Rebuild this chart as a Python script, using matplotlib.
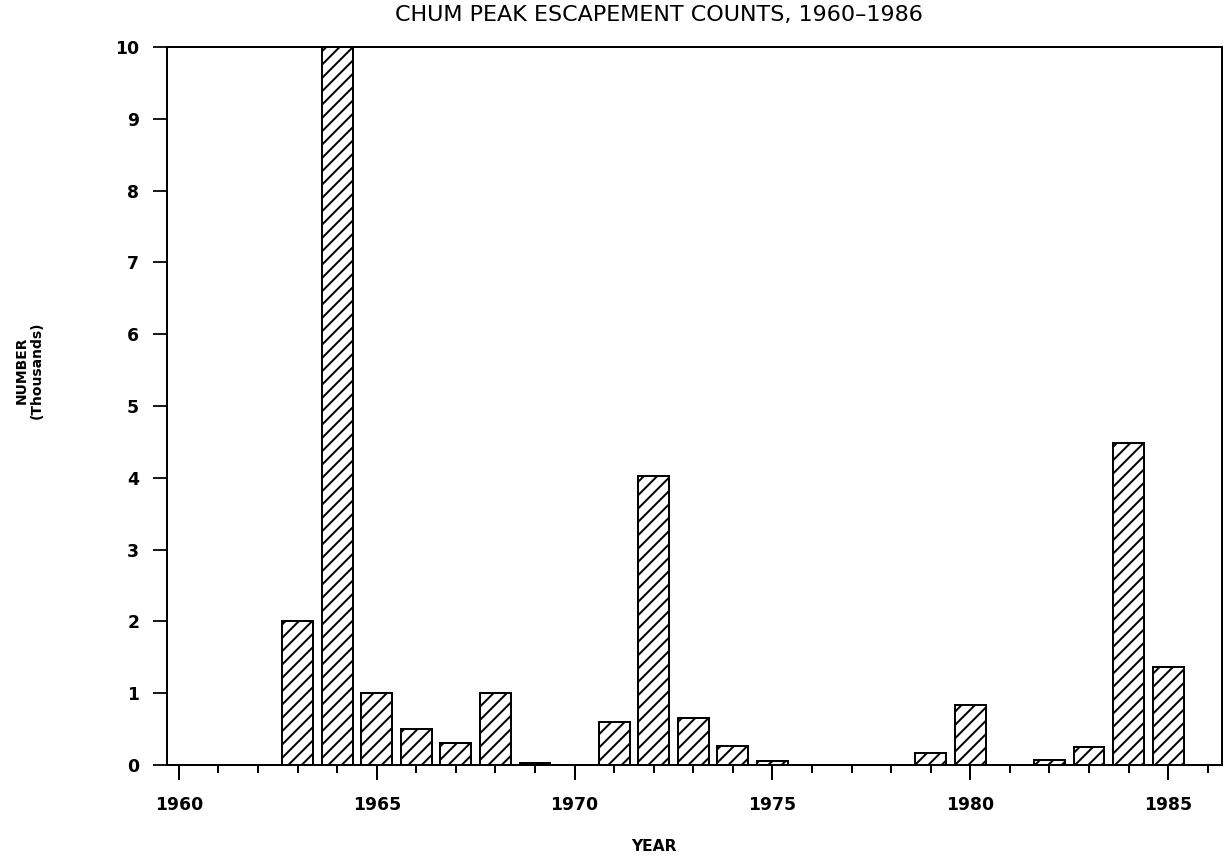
import matplotlib
matplotlib.use("Agg")
import matplotlib.pyplot as plt
from matplotlib.ticker import MultipleLocator

years = [1963, 1964, 1965, 1966, 1967, 1968, 1969, 1971, 1972, 1973, 1974,
         1975, 1979, 1980, 1982, 1983, 1984, 1985]
counts = [2.0, 10.0, 1.0, 0.5, 0.3, 1.0, 0.03, 0.6, 4.02, 0.65, 0.27,
          0.06, 0.17, 0.83, 0.07, 0.25, 4.48, 1.36]
major_ticks = [1960, 1965, 1970, 1975, 1980, 1985]
major_labels = ["1960", "1965", "1970", "1975", "1980", "1985"]
y_ticks = list(range(0, 11))

DPI = 80
W, H = 1228, 856
plt.rcParams['font.family'] = ['DejaVu Sans']
plt.rcParams['hatch.linewidth'] = 1.8
plt.rcParams['hatch.color'] = 'black'

fig = plt.figure(figsize=(W / DPI, H / DPI), dpi=DPI)
ax = fig.add_axes([167 / W, (H - 765) / H, (1222 - 167) / W, (765 - 47) / H])

ax.bar(years, counts, width=0.78, color='white', edgecolor='black',
       linewidth=1.8, hatch='//', zorder=2)

ax.set_xlim(1959.70, 1986.36)
ax.set_ylim(0, 10)

ax.set_xticks(major_ticks)
ax.set_xticklabels(major_labels, fontsize=15.5, fontweight='bold')
ax.xaxis.set_minor_locator(MultipleLocator(1))
ax.set_yticks(y_ticks)
ax.set_yticklabels([str(v) for v in y_ticks], fontsize=15.5, fontweight='bold')

ax.tick_params(axis='x', which='major', direction='out', length=13.5, width=1.8, pad=14)
ax.tick_params(axis='x', which='minor', direction='out', length=7, width=1.8)
ax.tick_params(axis='y', which='major', direction='out', length=13, width=1.6, pad=12)
ax.tick_params(axis='y', which='minor', left=False)

for s in ax.spines.values():
    s.set_linewidth(1.8)
    s.set_color('black')

fig.text(659 / W, 1 - 15 / H, "CHUM PEAK ESCAPEMENT COUNTS, 1960\u20131986",
         ha='center', va='center', fontsize=20)
fig.text(29 / W, 1 - 370 / H, "NUMBER\n(Thousands)", rotation=90,
         ha='center', va='center', multialignment='center',
         fontsize=12.5, fontweight='bold', linespacing=1.1)
fig.text(654 / W, 2 / H, "YEAR", ha='center', va='bottom',
         fontsize=14, fontweight='bold')

fig.savefig("out.png", dpi=DPI, facecolor='white')
